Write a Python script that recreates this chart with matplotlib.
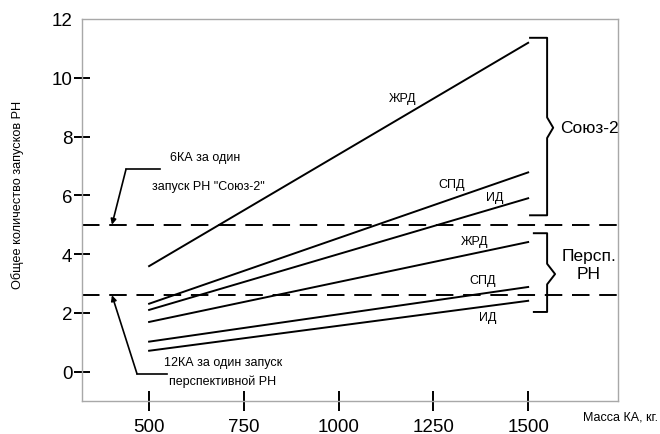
import matplotlib
matplotlib.use("Agg")
import matplotlib.pyplot as plt

plt.rcParams['font.family'] = ['Liberation Sans', 'DejaVu Sans']

# Data
mass = [500, 1500]
soyuz_zhrd = [3.59, 11.19]
soyuz_spd = [2.31, 6.78]
soyuz_id = [2.10, 5.90]
persp_zhrd = [1.69, 4.41]
persp_spd = [1.02, 2.88]
persp_id = [0.71, 2.41]
limit_soyuz = 5.0
limit_persp = 2.6
x_ticks = [500, 750, 1000, 1250, 1500]
y_ticks = [0, 2, 4, 6, 8, 10]
y_top_tick = [12]

fig = plt.figure(figsize=(6.6, 4.35), dpi=100)
ax = fig.add_axes([82/660, 33/435, 536/660, 382/435])
ax.set_xlim(323, 1737)
ax.set_ylim(-1, 12)

lw = 1.4
for ys in [soyuz_zhrd, soyuz_spd, soyuz_id, persp_zhrd, persp_spd, persp_id]:
    ax.plot(mass, ys, color='black', lw=lw)

for yv in [limit_soyuz, limit_persp]:
    ax.axhline(yv, color='black', lw=1.4, dashes=(9, 5))

for s in ax.spines.values():
    s.set_color('#a8a8a8')
    s.set_linewidth(1.0)

ax.set_xticks(x_ticks)
ax.set_yticks(y_ticks)
ax.set_yticks(y_top_tick, labels=[str(v) for v in y_top_tick], minor=True)
ax.set_xticks([], minor=True)
ax.tick_params(axis='both', direction='inout', length=14, width=1.4, color='black',
               labelsize=13.5)
ax.tick_params(axis='y', length=12, pad=1)
ax.tick_params(axis='y', which='minor', length=0, pad=7, labelsize=13.5)
ax.tick_params(axis='x', pad=5)

# Line labels
fs = 9
ax.text(1170, 9.32, 'ЖРД', fontsize=fs, ha='center', va='center')
ax.text(1299, 6.37, 'СПД', fontsize=fs, ha='center', va='center')
ax.text(1413, 5.93, 'ИД', fontsize=fs, ha='center', va='center')
ax.text(1358, 4.44, 'ЖРД', fontsize=fs, ha='center', va='center')
ax.text(1379, 3.12, 'СПД', fontsize=fs, ha='center', va='center')
ax.text(1394, 1.86, 'ИД', fontsize=fs, ha='center', va='center')

# Brackets
def bracket(x0, x1, xp, ytop, ybot, ymid, d=0.35):
    xs = [x0, x1, x1, xp, x1, x1, x0]
    ys = [ytop, ytop, ymid + d, ymid, ymid - d, ybot, ybot]
    ax.plot(xs, ys, color='black', lw=1.4, clip_on=False)

bracket(1505, 1550, 1566, 11.36, 5.32, 8.3)
bracket(1515, 1550, 1571, 4.71, 2.03, 3.32)
ax.text(1584, 8.3, 'Союз-2', fontsize=12.5, ha='left', va='center')
ax.text(1660, 3.63, 'Персп.\nРН', fontsize=12.5, ha='center', va='center', linespacing=1.25)

# Annotations
ax.plot([529, 439], [6.88, 6.88], color='black', lw=1.2)
ax.annotate('', xy=(402, limit_soyuz), xytext=(439, 6.88),
            arrowprops=dict(arrowstyle='-|>', color='black', lw=1.2,
                            mutation_scale=8, shrinkA=0, shrinkB=0))
ax.text(648, 7.32, '6КА за один', fontsize=fs, ha='center', va='center')
ax.text(656, 6.31, 'запуск РН "Союз-2"', fontsize=fs, ha='center', va='center')

ax.plot([547, 468], [-0.07, -0.07], color='black', lw=1.2)
ax.annotate('', xy=(402, limit_persp), xytext=(468, -0.07),
            arrowprops=dict(arrowstyle='-|>', color='black', lw=1.2,
                            mutation_scale=8, shrinkA=0, shrinkB=0))
ax.text(695, 0.34, '12КА за один запуск', fontsize=fs, ha='center', va='center')
ax.text(695, -0.31, 'перспективной РН', fontsize=fs, ha='center', va='center')

fig.text(18/660, 1 - 195/435, 'Общее количество запусков РН', rotation=90,
         fontsize=9.2, ha='center', va='center')
fig.text(1 - 2/660, 1 - 418/435, 'Масса КА, кг.', fontsize=9, ha='right', va='center')

fig.savefig('out.png', dpi=100)
